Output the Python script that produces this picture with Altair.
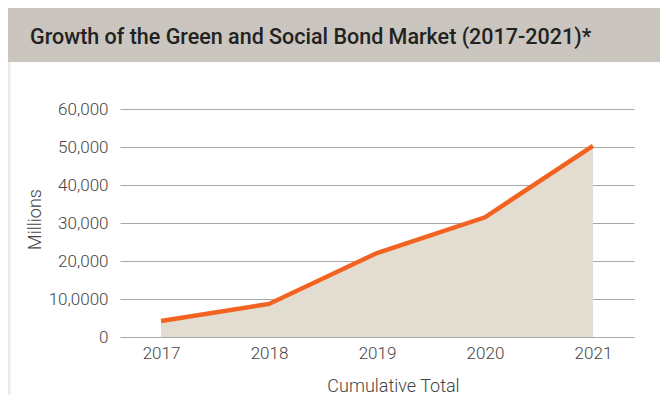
import altair as alt
import pandas as pd

years = ["2017", "2018", "2019", "2020", "2021"]
values = [4200, 8700, 22100, 31500, 50300]
title_text = "Growth of the Green and Social Bond Market (2017-2021)*"
y_title = "Millions"
x_title = "Cumulative Total"
y_ticks = [0, 10000, 20000, 30000, 40000, 50000, 60000]

df = pd.DataFrame({"year": years, "value": values})

W, H = 514, 228
PL, PT, PR, PB = 112, 101, 26, 58

xenc = alt.X("year:O", scale=alt.Scale(type="point", padding=0.38), sort=years,
             axis=alt.Axis(title=x_title, labelAngle=0, domain=False, ticks=False,
                           labelFontSize=17, labelColor="#444", labelFont="Roboto",
                           labelFontWeight=300, labelPadding=8,
                           titleFontSize=18, titleColor="#444", titleFont="Roboto",
                           titleFontWeight=300, titlePadding=16, titleX=273))
yenc = alt.Y("value:Q", scale=alt.Scale(domain=[0, 60000], nice=False),
             axis=alt.Axis(title=y_title, values=y_ticks, domain=False, ticks=False,
                           grid=True, gridColor="#a8a8a8", gridWidth=1,
                           labelOverlap=False,
                           labelExpr="datum.value == 10000 ? '10,0000' : format(datum.value, ',')",
                           labelFontSize=17, labelColor="#444", labelFont="Roboto",
                           labelFontWeight=300, labelPadding=12,
                           titleFontSize=18, titleColor="#444", titleFont="Roboto",
                           titleFontWeight=300, titleX=-76, titleY=110))

base = alt.Chart(df)
area = base.mark_area(color="#e2dcd1", opacity=1).encode(x=xenc, y=yenc)
line = base.mark_line(color="#f26322", strokeWidth=4.5).encode(x=xenc, y=yenc)

hdr_df = pd.DataFrame({"t": [title_text]})
header = alt.Chart(hdr_df).mark_rect(color="#cac6bf").encode(
    x=alt.value(-PL), x2=alt.value(W + PR), y=alt.value(-PT), y2=alt.value(-47)
)
border = alt.Chart(hdr_df).mark_rule(color="#efebe4", strokeWidth=3).encode(
    x=alt.value(-PL + 1), y=alt.value(-47), y2=alt.value(H + PB)
)
title = alt.Chart(hdr_df).mark_text(
    align="left", baseline="middle", font="Roboto", fontSize=21.5, fontWeight=500,
    color="#222"
).encode(text="t:N", x=alt.value(-90), y=alt.value(-71))

chart = alt.layer(header, border, title, area, line).properties(
    width=W, height=H,
    padding={"left": PL, "top": PT, "right": PR, "bottom": PB},
    autosize=alt.AutoSizeParams(type="none"),
).configure_view(stroke=None)

chart.save("out.html", embed_options={"renderer": "svg", "actions": False})
